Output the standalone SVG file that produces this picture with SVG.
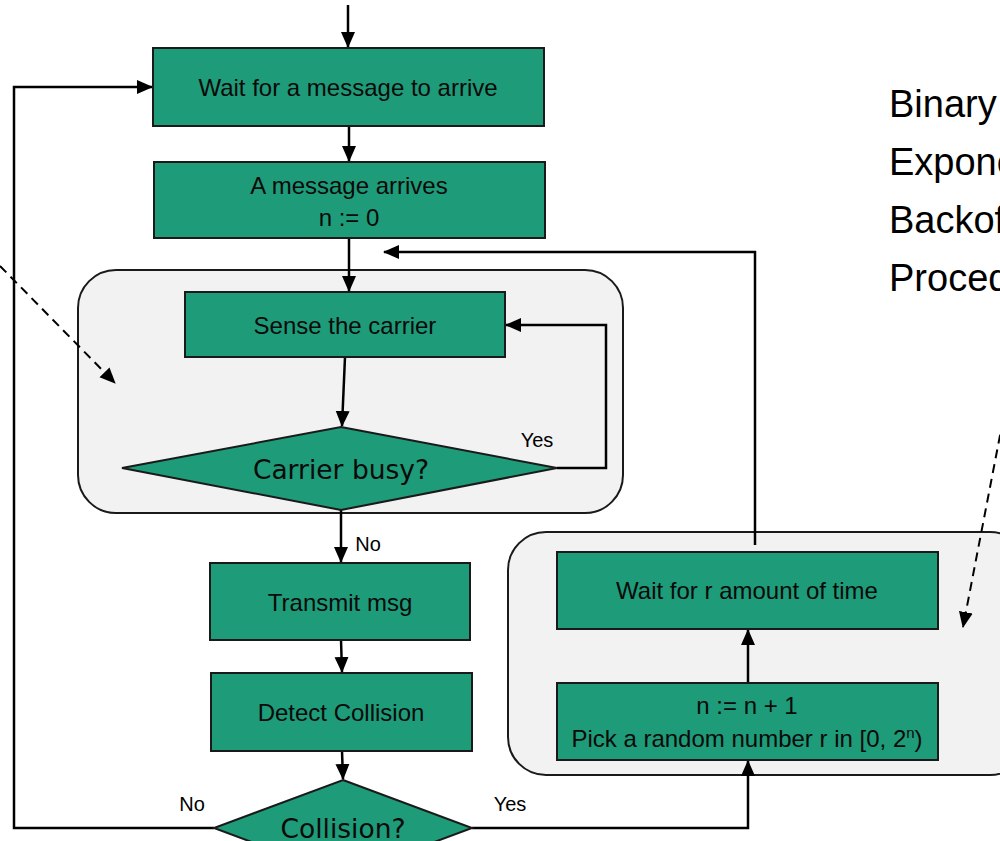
<svg xmlns="http://www.w3.org/2000/svg" width="1000" height="841" viewBox="0 0 1000 841">
  <style>
    .box { fill: #1E9B78; stroke: #1a1a1a; stroke-width: 2; }
    .grp { fill: #F2F2F2; stroke: #1a1a1a; stroke-width: 2; }
    .lbl { font-family: "Liberation Sans", Arial, sans-serif; font-size: 24px; fill: #0a0a0a; text-anchor: middle; }
    .dlbl { font-family: "DejaVu Sans", Verdana, sans-serif; font-size: 26.5px; fill: #0a0a0a; text-anchor: middle; }
    .tag { font-family: "Liberation Sans", Arial, sans-serif; font-size: 20px; fill: #000; text-anchor: middle; }
    .title { font-family: "Liberation Sans", Arial, sans-serif; font-size: 38px; fill: #000; }
    .line { fill: none; stroke: #000; stroke-width: 2.5; }
    .dash { fill: none; stroke: #000; stroke-width: 2; stroke-dasharray: 9 6; }
  </style>
  <defs>
    <marker id="arrowL" markerWidth="16" markerHeight="16" refX="15" refY="8" orient="auto" markerUnits="userSpaceOnUse">
      <path d="M0,1 L16,8 L0,15 z" fill="#000"/>
    </marker>
  </defs>

  <rect width="1000" height="841" fill="#fff"/>

  <!-- container groups -->
  <g id="carrier-sense-group">
    <rect class="grp" x="78" y="270" width="545" height="243" rx="38"/>
  </g>
  <g id="backoff-group">
    <rect class="grp" x="508" y="532" width="520" height="243" rx="38"/>
  </g>

  <!-- connectors -->
  <g id="connectors">
    <line class="line" x1="348" y1="5" x2="348" y2="47" marker-end="url(#arrowL)"/>
    <line class="line" x1="349" y1="126" x2="349" y2="161" marker-end="url(#arrowL)"/>
    <line class="line" x1="349" y1="238" x2="349" y2="291" marker-end="url(#arrowL)"/>
    <line class="line" x1="345" y1="357" x2="342" y2="426" marker-end="url(#arrowL)"/>
    <polyline class="line" points="557,468 606,468 606,325 506,325" marker-end="url(#arrowL)"/>
    <line class="line" x1="341" y1="510" x2="341" y2="562" marker-end="url(#arrowL)"/>
    <line class="line" x1="341" y1="640" x2="342" y2="672" marker-end="url(#arrowL)"/>
    <line class="line" x1="342" y1="751" x2="343" y2="779" marker-end="url(#arrowL)"/>
    <polyline class="line" points="214,828 14,828 14,87 152,87" marker-end="url(#arrowL)"/>
    <polyline class="line" points="472,828 748,828 748,761" marker-end="url(#arrowL)"/>
    <line class="line" x1="748" y1="683" x2="748" y2="630" marker-end="url(#arrowL)"/>
    <polyline class="line" points="755,545 755,252 384,252" marker-end="url(#arrowL)"/>
    <line class="dash" x1="0" y1="266" x2="115" y2="383" marker-end="url(#arrowL)"/>
    <line class="dash" x1="1003" y1="420" x2="963" y2="627" marker-end="url(#arrowL)"/>
  </g>

  <!-- flow nodes -->
  <g id="wait-message">
    <rect class="box" x="153" y="48" width="391" height="78"/>
    <text class="lbl" x="348" y="96">Wait for a message to arrive</text>
  </g>
  <g id="message-arrives">
    <rect class="box" x="154" y="162" width="391" height="76"/>
    <text class="lbl" x="349" y="194">A message arrives</text>
    <text class="lbl" x="349" y="226">n := 0</text>
  </g>
  <g id="sense-carrier">
    <rect class="box" x="185" y="292" width="320" height="65"/>
    <text class="lbl" x="345" y="334">Sense the carrier</text>
  </g>
  <g id="carrier-busy">
    <polygon class="box" points="341,427 557,468 341,510 122,468"/>
    <text class="dlbl" x="341" y="479">Carrier busy?</text>
  </g>
  <g id="transmit">
    <rect class="box" x="210" y="563" width="260" height="77"/>
    <text class="lbl" x="340" y="611">Transmit msg</text>
  </g>
  <g id="detect-collision">
    <rect class="box" x="211" y="673" width="261" height="78"/>
    <text class="lbl" x="341" y="721">Detect Collision</text>
  </g>
  <g id="collision">
    <polygon class="box" points="343,780 472,828 343,876 214,828"/>
    <text class="dlbl" x="343" y="838">Collision?</text>
  </g>
  <g id="wait-r">
    <rect class="box" x="557" y="552" width="381" height="77"/>
    <text class="lbl" x="747" y="599">Wait for r amount of time</text>
  </g>
  <g id="pick-random">
    <rect class="box" x="557" y="683" width="381" height="77"/>
    <text class="lbl" x="747" y="714">n := n + 1</text>
    <text class="lbl" x="747" y="747">Pick a random number r in [0, 2<tspan font-size="15" dy="-9">n</tspan><tspan dy="9">)</tspan></text>
  </g>

  <!-- branch labels -->
  <g id="labels">
    <text class="tag" x="537" y="447">Yes</text>
    <text class="tag" x="368" y="551">No</text>
    <text class="tag" x="192" y="811">No</text>
    <text class="tag" x="510" y="811">Yes</text>
  </g>

  <g id="title">
    <text class="title" x="889" y="117">Binary</text>
    <text class="title" x="889" y="175">Exponential</text>
    <text class="title" x="889" y="233">Backoff</text>
    <text class="title" x="889" y="291">Procedure</text>
  </g>
</svg>
